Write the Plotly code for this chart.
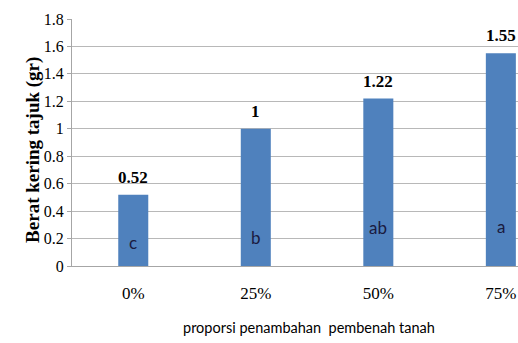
import plotly.graph_objects as go

categories = ["0%", "25%", "50%", "75%"]
values = [0.52, 1.0, 1.22, 1.55]
value_labels = ["0.52", "1", "1.22", "1.55"]
letters = ["c", "b", "ab", "a"]
letter_y = [0.17, 0.21, 0.28, 0.29]
y_ticks = [0, 0.2, 0.4, 0.6, 0.8, 1, 1.2, 1.4, 1.6, 1.8]

serif = "Liberation Serif"
sans = "Lato"

fig = go.Figure()
fig.add_trace(go.Bar(
    x=list(range(len(categories))), y=values, width=0.245,
    marker=dict(color="#4F81BD", line=dict(width=0)),
    hoverinfo="skip",
))
for i, (v, t) in enumerate(zip(values, value_labels)):
    fig.add_annotation(x=i, y=v, text=f"<b>{t}</b>", showarrow=False,
                       yanchor="bottom", yshift=6,
                       font=dict(family=serif, size=17, color="black"))
for i, (l, ly) in enumerate(zip(letters, letter_y)):
    fig.add_annotation(x=i, y=ly, text=l, showarrow=False,
                       font=dict(family=sans, size=17, color="#1a1a40"))

fig.add_annotation(xref="paper", yref="paper", x=(20 - 72) / 446, y=0.47,
                   text="<b>Berat kering tajuk (gr)</b>", textangle=-90,
                   showarrow=False, font=dict(family=serif, size=19, color="black"))
fig.add_annotation(xref="paper", yref="paper", x=(309 - 72) / 446, y=-(327 - 266) / 247,
                   text="proporsi penambahan  pembenah tanah", showarrow=False,
                   font=dict(family=sans, size=14.5, color="black"), yanchor="middle")

fig.update_layout(
    width=518, height=343,
    margin=dict(l=72, r=0, t=19, b=77),
    paper_bgcolor="white", plot_bgcolor="white",
    showlegend=False,
    xaxis=dict(range=[-0.5, 3.14], tickmode="array",
               tickvals=list(range(len(categories))), ticktext=categories,
               tickfont=dict(family=serif, size=17, color="black"),
               ticks="outside", ticklen=12, tickcolor="rgba(0,0,0,0)",
               showline=True, linecolor="#a6a6a6", linewidth=1,
               showgrid=False, zeroline=False),
    yaxis=dict(range=[0, 1.8], tickvals=y_ticks,
               ticktext=[f"{v:g}" for v in y_ticks],
               tickfont=dict(family=serif, size=16, color="black"),
               ticks="outside", ticklen=4, tickcolor="#a6a6a6",
               showline=True, linecolor="#a6a6a6", linewidth=1,
               showgrid=True, gridcolor="#b8b8b8", gridwidth=1, zeroline=False),
)

fig.write_html("out.html")
